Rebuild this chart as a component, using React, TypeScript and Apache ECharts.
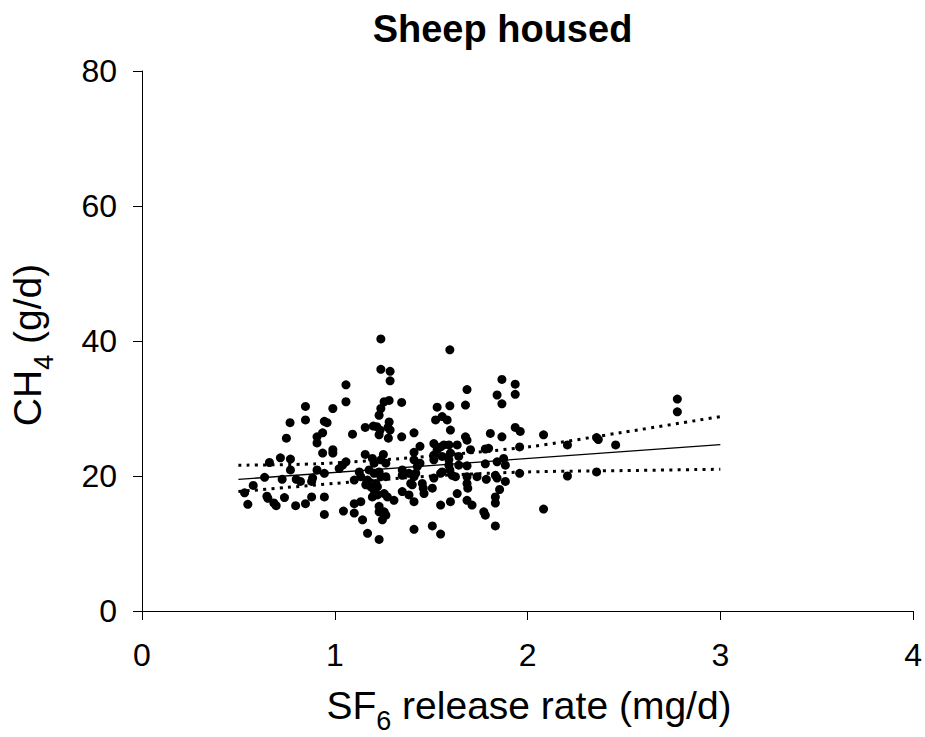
import React, { useEffect, useRef } from "react";
import * as echarts from "echarts";

const FONT = "'Liberation Sans', Arial, sans-serif";

// SF6 release rate (mg/d) vs CH4 (g/d), housed sheep
const sf6: number[] = [
  0.848, 0.99, 0.768, 0.848, 0.946, 0.96, 0.937, 0.749, 0.908, 0.908, 0.937, 0.99, 0.99, 1.04, 1.023,
  0.661, 0.718, 0.77, 0.77, 0.636, 0.727, 0.8, 0.822, 0.885, 0.88, 0.908, 0.946, 0.577, 0.532, 0.549,
  0.648, 0.653, 0.684, 0.696, 0.739, 0.797, 0.848, 0.88, 0.946, 0.946, 1.045,
  1.239, 1.597, 1.239, 1.287, 1.287, 1.058, 1.058, 1.256, 1.282, 1.239, 1.23, 1.347, 1.531, 1.597,
  1.523, 1.557, 1.583, 1.6, 1.158, 1.2, 1.218, 1.235, 1.23, 1.276, 1.282, 1.287, 1.278, 1.092, 1.347,
  1.411, 1.442, 1.514, 1.531, 1.549, 1.566, 1.592, 1.158, 1.252, 1.195, 1.204, 1.239, 1.265, 1.411,
  1.411, 1.442, 1.428, 1.514, 1.514, 1.557, 1.592, 1.592, 1.597, 1.058, 1.127, 1.135, 1.178, 1.204,
  1.23, 1.239, 1.265, 1.101, 1.161, 1.187, 1.213, 1.221, 1.17, 1.256, 1.273, 1.307, 1.195, 1.221,
  1.204, 1.35, 1.35, 1.385, 1.411, 1.42, 1.402, 1.394, 1.35, 1.385, 1.411, 1.454, 1.459, 1.463, 1.514,
  1.506, 1.549, 1.557, 1.6, 1.549, 1.101, 1.135, 1.101, 1.144, 1.23, 1.23, 1.256, 1.247, 1.265, 1.17,
  1.23, 1.411, 1.506, 1.549,
  1.867, 1.936, 1.686, 1.842, 1.867, 1.936, 1.678, 1.678, 1.686, 1.807, 1.867, 1.936, 1.962, 2.083,
  1.635, 1.6, 1.643, 1.704, 1.781, 1.798, 1.959, 1.643, 1.686, 1.781, 1.842, 1.876, 1.885, 1.609,
  1.626, 1.686, 1.686, 1.69, 1.738, 1.786, 1.833, 1.842, 1.885, 1.959, 1.635, 1.686, 1.712, 1.833,
  1.833, 1.855, 1.773, 1.781, 2.083, 1.833,
  2.777, 2.777, 2.207, 2.358, 2.367, 2.457, 2.207, 2.358,
];
const ch4: number[] = [
  30.3, 30.0, 27.9, 28.3, 28.1, 27.9, 26.4, 25.6, 25.8, 24.9, 23.4, 23.9, 23.4, 21.6, 21.1,
  22.0, 22.7, 22.5, 20.9, 19.8, 19.5, 19.5, 19.2, 19.7, 19.2, 20.9, 20.4, 18.6, 17.5, 15.8,
  17.0, 16.7, 16.0, 15.6, 16.8, 15.6, 15.9, 16.9, 16.9, 14.3, 14.8,
  40.3, 38.7, 35.8, 35.5, 34.1, 33.5, 31.0, 31.0, 31.2, 30.0, 29.0, 30.9, 30.2, 30.4,
  28.3, 28.8, 28.3, 26.8, 27.2, 27.4, 27.3, 26.8, 26.1, 27.2, 28.0, 26.8, 25.6, 26.2, 25.8,
  26.4, 24.4, 24.8, 23.9, 24.3, 24.6, 24.6, 23.2, 23.2, 22.6, 21.9, 22.4, 21.9, 23.5,
  22.4, 21.9, 21.4, 23.1, 22.4, 22.9, 22.4, 21.6, 20.9, 22.1, 20.6, 19.9, 20.9, 20.4,
  20.6, 19.9, 19.9, 19.4, 18.7, 18.4, 18.9, 18.4, 19.4, 17.4, 16.9, 16.4, 16.9, 17.2,
  17.9, 20.9, 20.1, 20.4, 19.9, 20.4, 18.7, 18.9, 17.7, 17.2, 16.2, 18.9, 18.2, 17.4, 19.7,
  18.2, 20.4, 20.6, 16.2, 15.7, 15.9, 16.2, 14.5, 13.5, 15.5, 14.7, 14.7, 13.5, 14.2, 11.5,
  10.6, 12.1, 12.6, 11.4,
  34.3, 33.6, 32.8, 32.0, 30.7, 32.1, 30.5, 25.8, 25.3, 26.3, 25.8, 27.2, 26.6, 26.1,
  24.6, 23.4, 22.9, 23.9, 24.0, 24.1, 24.3, 21.6, 21.5, 21.8, 22.1, 22.6, 21.6, 20.1,
  19.9, 19.9, 18.9, 18.2, 19.9, 19.5, 20.1, 19.7, 19.2, 20.4, 17.4, 16.4, 15.7, 16.9,
  16.0, 18.0, 14.7, 14.2, 15.1, 12.6,
  31.4, 29.5, 24.6, 25.7, 25.4, 24.6, 20.0, 20.6,
];

// regression line and confidence band
const fitX: number[] = [0.5, 3.0];
const fitY: number[] = [19.5, 24.65];
const upperX: number[] = [0.5, 0.9, 1.35, 2.0, 2.5, 3.0];
const upperY: number[] = [21.6, 21.8, 22.6, 24.3, 26.5, 28.8];
const lowerX: number[] = [0.5, 0.75, 1.0, 1.5, 2.0, 2.5, 3.0];
const lowerY: number[] = [17.7, 18.3, 18.9, 20.0, 20.6, 20.8, 21.0];

const xTicks = [0, 1, 2, 3, 4];
const yTicks = [0, 20, 40, 60, 80];

const zip = (a: number[], b: number[]) => a.map((v, i) => [v, b[i]]);

export default function App() {
  const ref = useRef<HTMLDivElement>(null);
  useEffect(() => {
    document.body.style.margin = "0";
    if (!ref.current) return;
    const chart = echarts.init(ref.current, null, { renderer: "svg" });
    const axisCommon = {
      axisLine: { show: true, lineStyle: { color: "#000", width: 1 } },
      axisTick: { show: true, inside: false, length: 9, lineStyle: { color: "#000", width: 1 } },
      splitLine: { show: false },
    };
    const rich = {
      a: { fontSize: 39, fontFamily: FONT, color: "#000", lineHeight: 44 },
      b: { fontSize: 27, fontFamily: FONT, color: "#000", lineHeight: 12, padding: [32, 0, 0, 0] },
    };
    chart.setOption({
      animation: false,
      backgroundColor: "#fff",
      grid: { left: 142, right: 9, top: 71, bottom: 126, containLabel: false },
      xAxis: {
        type: "value",
        min: xTicks[0],
        max: xTicks[xTicks.length - 1],
        interval: 1,
        ...axisCommon,
        axisLabel: { fontSize: 32, fontFamily: FONT, color: "#000", margin: 28 },
      },
      yAxis: {
        type: "value",
        min: yTicks[0],
        max: yTicks[yTicks.length - 1],
        interval: 20,
        ...axisCommon,
        axisLabel: { fontSize: 32, fontFamily: FONT, color: "#000", margin: 25 },
      },
      graphic: [
        {
          type: "text",
          x: 502.5,
          y: 29,
          style: {
            text: "Sheep housed",
            font: `bold 38px ${FONT}`,
            fill: "#000",
            align: "center",
            verticalAlign: "middle",
          },
        },
        {
          type: "text",
          x: 529,
          y: 705,
          style: {
            text: "{a|SF}{b|6}{a| release rate (mg/d)}",
            rich,
            align: "center",
            verticalAlign: "middle",
          },
        },
        {
          type: "text",
          x: 27.5,
          y: 345,
          rotation: Math.PI / 2,
          style: {
            text: "{a|CH}{b|4}{a| (g/d)}",
            rich,
            align: "center",
            verticalAlign: "middle",
          },
        },
      ],
      series: [
        {
          type: "scatter",
          data: zip(sf6, ch4),
          symbol: "circle",
          symbolSize: 9,
          itemStyle: { color: "#000", opacity: 1 },
          z: 3,
        },
        {
          type: "line",
          data: zip(fitX, fitY),
          symbol: "none",
          lineStyle: { color: "#000", width: 1.3 },
          z: 4,
        },
        {
          type: "line",
          data: zip(upperX, upperY),
          symbol: "none",
          smooth: 0.3,
          lineStyle: { color: "#000", width: 3, type: [3, 5.3] },
          z: 4,
        },
        {
          type: "line",
          data: zip(lowerX, lowerY),
          symbol: "none",
          smooth: 0.3,
          lineStyle: { color: "#000", width: 3, type: [3, 5.3] },
          z: 4,
        },
      ],
    });
    return () => chart.dispose();
  }, []);
  return <div ref={ref} style={{ width: 925, height: 737 }} />;
}
